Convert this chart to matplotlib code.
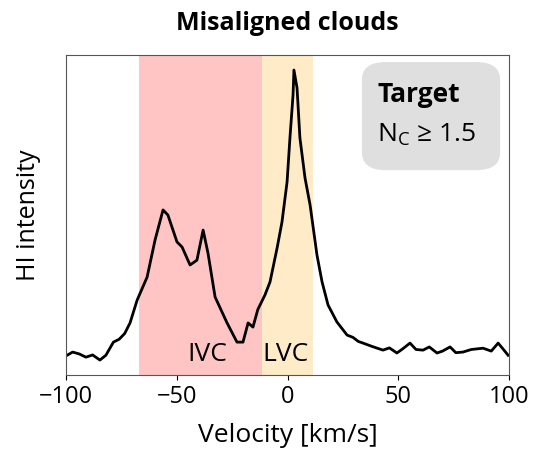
import numpy as np
import matplotlib.pyplot as plt
from matplotlib.patches import FancyBboxPatch

plt.rcParams['font.family'] = ['Open Sans', 'DejaVu Sans']

# HI spectrum
velocity = [-99.5, -97, -94, -91, -88, -84.7, -82, -78.6, -76, -73.5, -71.1, -67.9,
            -63.4, -59.8, -56.2, -54.0, -49.9, -47.6, -44.0, -40.9, -38.1, -35.9,
            -32.7, -27.3, -22.8, -20.1, -17.8, -15.6, -13.4, -10.2, -7.9, -4.7,
            -2.5, -0.2, 1.1, 2.5, 2.9, 4.3, 5.6, 7.9, 10.2, 13.3, 15.6, 18.3,
            22.3, 26.9, 29.5, 32, 34.1, 38, 43.1, 46, 49.4, 52, 55.3, 58, 61.2,
            64, 67.5, 70, 73.4, 76, 79.2, 83, 88.3, 92, 95.1, 97.5, 99.6]
intensity = [0.062, 0.072, 0.066, 0.056, 0.063, 0.047, 0.062, 0.103, 0.112, 0.130,
             0.163, 0.234, 0.306, 0.422, 0.516, 0.500, 0.416, 0.400, 0.344, 0.359,
             0.453, 0.381, 0.244, 0.163, 0.103, 0.103, 0.163, 0.150, 0.205, 0.250,
             0.291, 0.397, 0.478, 0.603, 0.741, 0.875, 0.953, 0.897, 0.741, 0.616,
             0.531, 0.375, 0.291, 0.219, 0.166, 0.125, 0.118, 0.105, 0.100, 0.090,
             0.078, 0.085, 0.069, 0.082, 0.100, 0.080, 0.078, 0.088, 0.069, 0.075,
             0.088, 0.070, 0.072, 0.080, 0.084, 0.075, 0.100, 0.080, 0.062]

ivc_range = (-67, -11.5)
lvc_range = (-11.5, 11.5)

fig = plt.figure(figsize=(5.35, 4.58), dpi=100)
ax = fig.add_axes([0.1234, 0.181, 0.828, 0.699])

ax.axvspan(*ivc_range, color='red', alpha=0.23, lw=0)
ax.axvspan(*lvc_range, color='orange', alpha=0.22, lw=0)
ax.plot(velocity, intensity, color='black', lw=2)

ax.text(-36, 0.025, 'IVC', fontsize=19, ha='center', va='bottom')
ax.text(-0.7, 0.025, 'LVC', fontsize=19, ha='center', va='bottom')

# rounded info box
box = FancyBboxPatch((0.668, 0.64), 0.312, 0.338, boxstyle='round,pad=0,rounding_size=0.055',
                     transform=ax.transAxes, facecolor='#dcdcdc', edgecolor='none', alpha=0.9)
ax.add_patch(box)
ax.text(0.703, 0.875, 'Target', transform=ax.transAxes, fontsize=19, fontweight='bold',
        va='center')
ax.text(0.703, 0.75, r'N$_\mathregular{C}$ ≥ 1.5', transform=ax.transAxes, fontsize=19,
        va='center')

ax.set_xlim(-100, 100)
ax.set_ylim(0, 1)
ax.set_yticks([])
ax.set_xticks([-100, -50, 0, 50, 100])
ax.tick_params(axis='x', labelsize=17)
for s in ax.spines.values():
    s.set_color('#555555')
ax.set_xlabel('Velocity [km/s]', fontsize=19, labelpad=10)
ax.set_ylabel('HI intensity', fontsize=18, labelpad=18)
ax.set_title('Misaligned clouds', fontsize=18, fontweight='bold', pad=18)

fig.savefig('out.png', dpi=100)
